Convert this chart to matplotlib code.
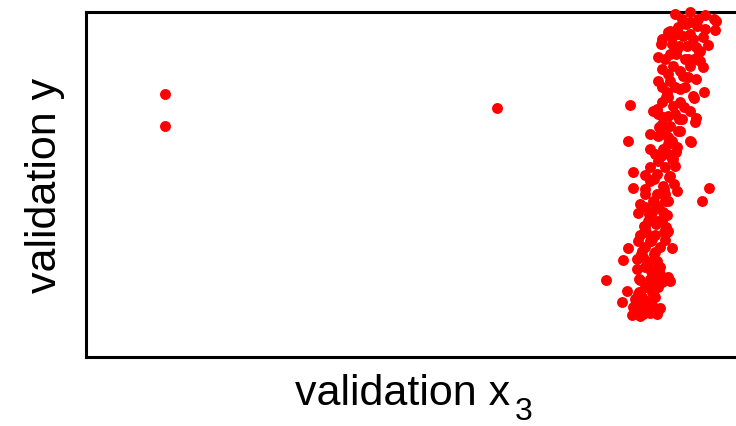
import matplotlib
matplotlib.use("Agg")
from matplotlib import pyplot as plt

plt.rcParams['font.family'] = ['Liberation Sans', 'DejaVu Sans']

# validation points (x3, y)
x3 = [165, 165, 497,
      675, 690, 705, 716, 715, 705, 697, 690, 678, 670, 662, 672, 693, 703,
      658, 677, 687, 700, 670, 662, 673, 690, 703, 658, 670, 688, 667, 680,
      693, 704, 630, 657, 673, 690, 696, 686, 668, 683, 679, 696, 714, 661,
      676, 699, 668, 683, 696, 668, 694, 663, 679, 659, 678, 668,
      653, 668, 682, 695, 662, 670, 680, 628, 658, 672, 690, 650, 663, 677,
      658, 673, 675, 633, 645, 657, 670, 650, 663, 633, 645, 657, 677, 709,
      702, 640, 653, 665, 638, 652, 663,
      668, 661, 676, 669, 674, 691,
      664, 654, 668, 649, 664, 644, 656, 666,
      650, 667, 657, 645, 667, 638, 652, 665, 628, 672, 642, 655, 623, 637,
      648, 657, 637, 655, 606, 640, 650, 662, 670, 627, 638, 652, 622, 635,
      647, 633, 645, 660, 632, 640, 657,
      646, 664, 651, 641, 654, 651, 656, 668,
      639, 653, 639, 653, 636, 651, 636, 659, 643, 650,
      682, 698, 678, 690, 665, 685, 694, 680, 662, 675, 685, 662, 680, 658,
      675, 650, 665, 655, 668, 650, 665, 645, 665, 645, 658, 648, 662, 640,
      655, 645, 660, 643, 645, 660, 645, 658, 642, 655, 640, 652,
      708, 700, 688, 672, 666, 684, 660, 672, 654, 668, 650, 660, 648]
y = [265, 233, 251,
     345, 347, 344, 338, 329, 330, 333, 337, 332, 328, 320, 322, 320, 322,
     302, 310, 313, 308, 305, 290, 293, 293, 292, 278, 278, 282, 267, 270,
     263, 267, 254, 250, 253, 248, 241, 335, 327, 323, 313, 312, 340, 315,
     305, 307, 285, 283, 280, 262, 261, 242, 240, 232, 228, 222,
     248, 243, 240, 237, 235, 233, 228, 218, 223, 218, 218, 210, 210, 212,
     198, 200, 193, 187, 184, 185, 183, 178, 173, 171, 170, 165, 168, 171,
     158, 155, 158, 158, 146, 147, 147,
     215, 203, 207, 182, 175, 217,
     170, 157, 158, 145, 143, 133, 135, 132,
     147, 144, 138, 132, 127, 118, 120, 119, 111, 111, 108, 107, 99, 100,
     97, 98, 90, 88, 79, 79, 80, 77, 78, 68, 65, 67, 57, 60,
     58, 52, 50, 51, 44, 43, 45,
     127, 127, 118, 105, 105, 88, 90, 82,
     80, 78, 67, 67, 58, 58, 52, 50, 45, 46,
     340, 340, 325, 325, 300, 300, 300, 288, 272, 272, 272, 257, 257, 245,
     245, 225, 225, 205, 205, 192, 192, 165, 165, 152, 152, 138, 138, 124,
     124, 112, 112, 102, 92, 92, 72, 72, 62, 62, 54, 54,
     314, 298, 300, 315, 262, 252, 232, 200, 180, 128, 118, 85, 72]

fig = plt.figure(figsize=(7.36, 4.27), dpi=100)
ax = fig.add_axes([86 / 736, 69 / 427, 650 / 736, 345 / 427])

ax.scatter(x3, y, s=62, color='#ff0000', linewidths=0, clip_on=False, zorder=3)

ax.set_xlim(86, 736)
ax.set_ylim(2, 347)
ax.set_xticks([])
ax.set_yticks([])
ax.spines['right'].set_visible(False)
for side in ['left', 'top', 'bottom']:
    ax.spines[side].set_linewidth(2.2)

fig.text(295 / 736, 1 - 405 / 427, 'validation x', fontsize=31,
         ha='left', va='baseline')
fig.text(515 / 736, 1 - 420 / 427, '3', fontsize=23,
         ha='left', va='baseline')
fig.text(45 / 736, 1 - 185 / 427, 'validation y', fontsize=31,
         ha='center', va='center', rotation=90)

fig.savefig('out.png', dpi=100)
